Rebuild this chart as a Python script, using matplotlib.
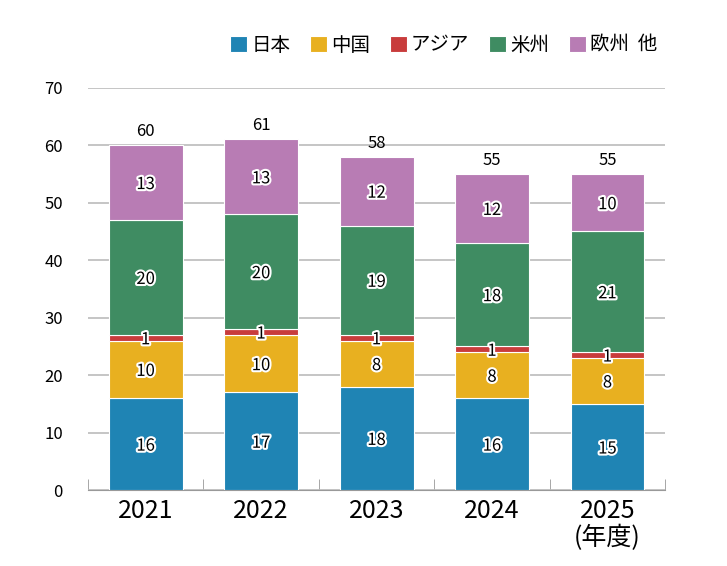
import numpy as np
import matplotlib.pyplot as plt
import matplotlib.patheffects as pe

plt.rcParams['font.family'] = ['Noto Sans CJK JP', 'DejaVu Sans']

### Data
YEARS = ["2021", "2022", "2023", "2024", "2025\n(年度)"]
SERIES = ["日本", "中国", "アジア", "米州", "欧州  他"]
JAPAN = [16, 17, 18, 16, 15]
CHINA = [10, 10, 8, 8, 8]
ASIA = [1, 1, 1, 1, 1]
AMERICAS = [20, 20, 19, 18, 21]
EUROPE = [13, 13, 12, 12, 10]
TOTALS = [60, 61, 58, 55, 55]
COLORS = ["#1f84b4", "#e8b020", "#c83c3c", "#3f8c62", "#b87cb4"]

fig = plt.figure(figsize=(7.27, 5.66), dpi=100)
ax = fig.add_axes([0.121, 0.134, 0.794, 0.711])

x = np.arange(len(YEARS))
bottom = np.zeros(len(YEARS))
outline = [pe.withStroke(linewidth=3, foreground="white")]
for name, values, color in zip(SERIES, [JAPAN, CHINA, ASIA, AMERICAS, EUROPE], COLORS):
    values = np.array(values, dtype=float)
    ax.bar(x, values, 0.64, bottom=bottom, color=color, label=name,
           edgecolor="white", linewidth=0.8, zorder=3)
    for xi, b, v in zip(x, bottom, values):
        ax.text(xi, b + v / 2, f"{int(v)}", ha="center", va="center_baseline", fontsize=12,
                color="black", path_effects=outline, zorder=4)
    bottom += values

for xi, t in zip(x, TOTALS):
    ax.text(xi, t + 0.9, str(t), ha="center", va="bottom", fontsize=12)

ax.set_xlim(-0.5, len(YEARS) - 0.5)
ax.set_ylim(0, 70)
ax.set_yticks(range(0, 71, 10))
ax.tick_params(axis="y", length=0, labelsize=12, pad=18)
ax.set_xticks(x)
ax.set_xticklabels(YEARS, fontsize=18, linespacing=1.0)
ax.set_xticks(np.arange(-0.5, len(YEARS)), minor=True)
ax.tick_params(axis="x", which="major", length=0, pad=6)
ax.tick_params(axis="x", which="minor", length=8, color="#999999", direction="in")
ax.grid(axis="y", color="#bbbbbb", linewidth=1.2, zorder=0)
for s in ["top", "right", "left"]:
    ax.spines[s].set_visible(False)
ax.spines["bottom"].set_color("#999999")

ax.legend(loc="lower right", bbox_to_anchor=(1.0, 1.06), ncol=5, frameon=False,
          fontsize=14, handlelength=0.9, handleheight=0.9, handletextpad=0.2,
          columnspacing=1.0, borderaxespad=0)

fig.savefig("out.png", dpi=100)
